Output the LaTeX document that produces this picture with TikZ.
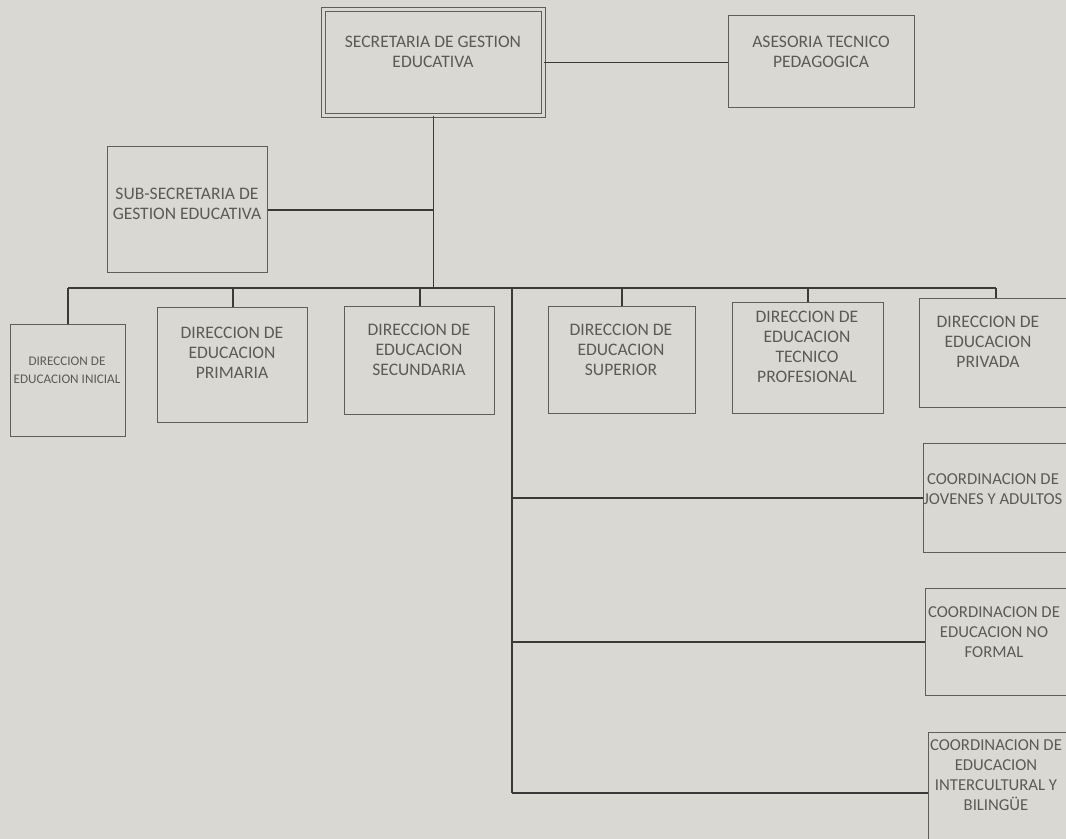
\documentclass[tikz,border=0pt]{standalone}
\usepackage{fontspec}
\setmainfont{Carlito}
\usetikzlibrary{positioning}
\definecolor{paper}{HTML}{DAD8D3}
\definecolor{boxline}{HTML}{5E5E5C}
\definecolor{linkline}{HTML}{3A3A38}
\definecolor{ink}{HTML}{5A5A58}

\tikzset{
  unit/.style={draw=boxline, line width=0.75pt, anchor=north west, inner sep=0pt},
  txt/.style={text=ink, align=center, inner sep=0pt, font=\fontsize{10}{11.5}\selectfont},
  cotxt/.style={txt, font=\fontsize{9.5}{11.5}\selectfont},
  link/.style={draw=linkline, line width=1.1pt}
}

\begin{document}
\begin{tikzpicture}[x=0.02cm, y=-0.02cm]
\useasboundingbox (0,0) rectangle (1066,839);
\fill[paper] (0,0) rectangle (1066,839);
\clip (0,0) rectangle (1066,839);

% ============================
\node[unit, line width=0.6pt, double=paper, double distance=1.6pt,
      minimum width=4.4cm, minimum height=2.12cm] (sec) at (323,9) {};
\node[txt] (sec-t) at (433,52) {SECRETARIA DE GESTION\\EDUCATIVA};

\node[unit, minimum width=3.72cm, minimum height=1.84cm] (ase) at (728,15) {};
\node[txt] (ase-t) at (821,52) {ASESORIA TECNICO\\PEDAGOGICA};

\node[unit, minimum width=3.2cm, minimum height=2.52cm] (sub) at (107,146) {};
\node[txt] (sub-t) at (187,204) {SUB-SECRETARIA DE\\GESTION EDUCATIVA};

% ============================
\node[unit, minimum width=2.3cm, minimum height=2.24cm] (ini) at (10,324) {};
\node[txt, font=\fontsize{7.5}{10}\selectfont] (ini-t) at (67,370) {DIRECCION DE\\EDUCACION INICIAL};

\node[unit, minimum width=3cm, minimum height=2.3cm] (pri) at (157,307) {};
\node[txt] (pri-t) at (232,353) {DIRECCION DE\\EDUCACION\\PRIMARIA};

\node[unit, minimum width=3cm, minimum height=2.16cm] (secu) at (344,306) {};
\node[txt] (secu-t) at (419,350) {DIRECCION DE\\EDUCACION\\SECUNDARIA};

\node[unit, minimum width=2.94cm, minimum height=2.14cm] (sup) at (548,306) {};
\node[txt] (sup-t) at (621,350) {DIRECCION DE\\EDUCACION\\SUPERIOR};

\node[unit, minimum width=3.02cm, minimum height=2.22cm] (tec) at (732,302) {};
\node[txt] (tec-t) at (807,347) {DIRECCION DE\\EDUCACION\\TECNICO\\PROFESIONAL};

\node[unit, minimum width=3.04cm, minimum height=2.18cm] (pvd) at (919,298) {};
\node[txt] (pvd-t) at (988,342) {DIRECCION DE\\EDUCACION\\PRIVADA};

% ============================
\node[unit, minimum width=3cm, minimum height=2.18cm] (co1) at (923,443) {};
\node[cotxt] (co1-t) at (993,489) {COORDINACION DE\\JOVENES Y ADULTOS};

\node[unit, minimum width=3cm, minimum height=2.14cm] (co2) at (925,588) {};
\node[cotxt] (co2-t) at (994,632) {COORDINACION DE\\EDUCACION NO\\FORMAL};

\node[unit, minimum width=3cm, minimum height=2.4cm] (co3) at (928,732) {};
\node[cotxt] (co3-t) at (996,775) {COORDINACION DE\\EDUCACION\\INTERCULTURAL Y\\BILINGÜE};

% ============================
\coordinate (bus) at (0,288);
\coordinate (trunk) at (512,288);

\draw[link] (sec.east) -- (sec.east -| ase.west);
\draw[link] (sec.south) -- (sec.south |- bus);
\draw[link] (sub.east) -- (sub.east -| sec.south);
\draw[link] (ini.north |- bus) -- (pvd.north |- bus);

\foreach \d in {ini,pri,secu,sup,tec,pvd}
  \draw[link] (\d.north) -- (\d.north |- bus);

\draw[link] (trunk) -- (trunk |- co3.west);
\foreach \c in {co1,co2,co3}
  \draw[link] (\c.west) -- (\c.west -| trunk);

\end{tikzpicture}
\end{document}
